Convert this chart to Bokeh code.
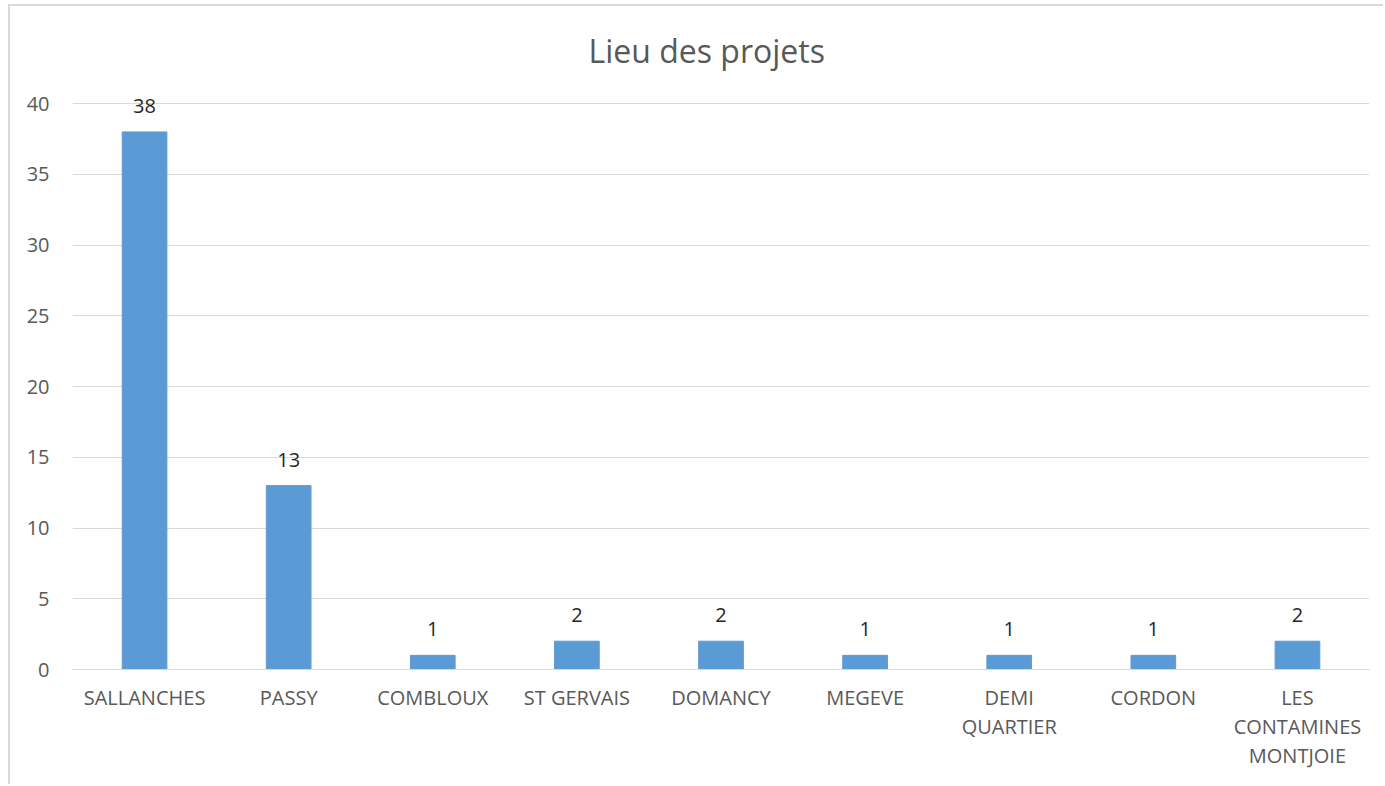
from bokeh.plotting import figure
from bokeh.models import ColumnDataSource, Range1d, FixedTicker, LabelSet, LinearAxis
from bokeh.core.properties import value
from bokeh.embed import file_html
from bokeh.resources import INLINE

categories = ["SALLANCHES", "PASSY", "COMBLOUX", "ST GERVAIS", "DOMANCY",
              "MEGEVE", "DEMI QUARTIER", "CORDON", "LES CONTAMINES MONTJOIE"]
tick_labels = ["SALLANCHES", "PASSY", "COMBLOUX", "ST GERVAIS", "DOMANCY",
               "MEGEVE", "DEMI\nQUARTIER", "CORDON", "LES\nCONTAMINES\nMONTJOIE"]
values = [38, 13, 1, 2, 2, 1, 1, 1, 2]
y_ticks = [0, 5, 10, 15, 20, 25, 30, 35, 40]

FONT = "Open Sans"
GREY = "#595959"

src = ColumnDataSource(data=dict(cat=categories, val=values, lab=[str(v) for v in values]))

p = figure(x_range=categories, y_range=Range1d(0, 41), width=1375, height=780,
           output_backend="svg", toolbar_location=None, x_axis_location=None,
           min_border_left=62, min_border_right=16, min_border_top=83, min_border_bottom=117)

p.vbar(x="cat", top="val", width=0.31, source=src, fill_color="#5B9BD5",
       line_color="#5B9BD5")

labels = LabelSet(x="cat", y="val", text="lab", source=src, text_align="center",
                  text_baseline="bottom", y_offset=19, text_font_size="20px",
                  text_color="#262626", text_font=value(FONT))
p.add_layout(labels)

p.title.text = "Lieu des projets"
p.title.align = "left"
p.title.text_font = FONT
p.title.text_font_size = "32px"
p.title.text_font_style = "normal"
p.title.text_color = GREY
p.title.offset = 516
p.title.standoff = 35

p.outline_line_color = None
p.xgrid.grid_line_color = None
p.ygrid.grid_line_color = "#d9d9d9"
p.ygrid.grid_line_width = 1

p.yaxis.ticker = FixedTicker(ticks=y_ticks)
p.yaxis.axis_line_color = None
p.yaxis.major_tick_line_color = None
p.yaxis.minor_tick_line_color = None
p.yaxis.major_label_text_font = FONT
p.yaxis.major_label_text_font_size = "20px"
p.yaxis.major_label_text_color = GREY
p.yaxis.major_label_standoff = 17
p.x_range.range_padding = 0

# split multi-line category labels into lines, one axis per line
lines = [t.split("\n") for t in tick_labels]
for k in (0, 1, 2):
    pos = [i + 0.5 for i, l in enumerate(lines) if len(l) > k]
    txt = {i + 0.5: l[k] for i, l in enumerate(lines) if len(l) > k}
    ax = LinearAxis(ticker=FixedTicker(ticks=pos), major_label_overrides=txt,
                    axis_line_color="#d9d9d9" if k == 0 else None,
                    major_tick_line_color=None, minor_tick_line_color=None,
                    major_label_standoff=8 if k == 0 else -7,
                    major_label_text_font=FONT, major_label_text_font_size="20px",
                    major_label_text_color=GREY)
    p.add_layout(ax, "below")

p.styles = {"margin-left": "8px", "margin-top": "4px",
            "border-left": "2px solid #d9d9d9", "border-top": "2px solid #d9d9d9"}

open("out.html", "w").write(file_html(p, INLINE))
